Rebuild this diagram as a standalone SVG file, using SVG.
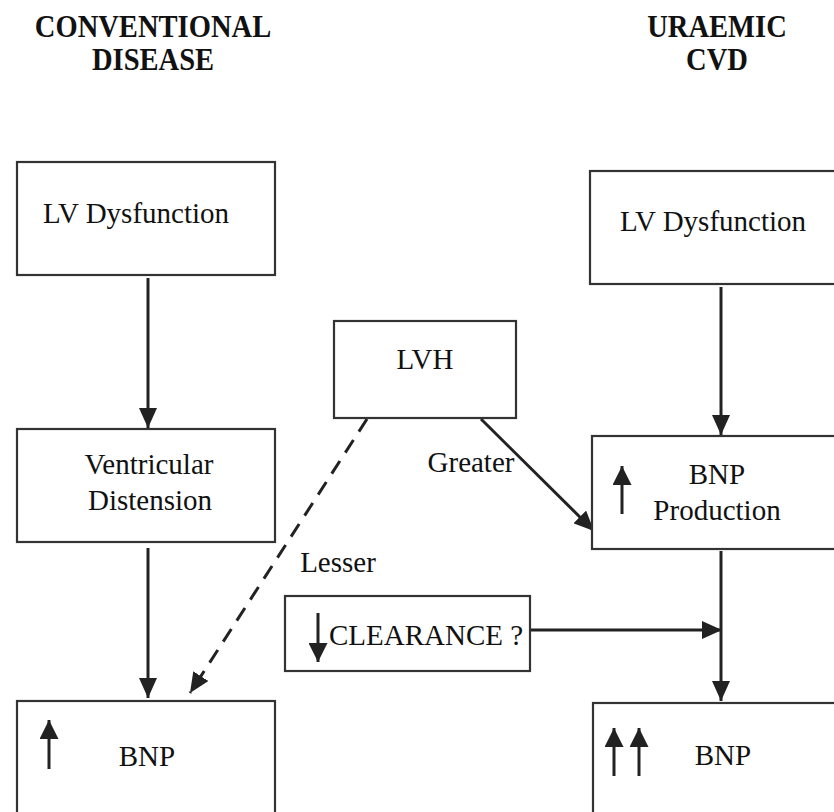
<svg xmlns="http://www.w3.org/2000/svg" width="834" height="812" viewBox="0 0 834 812">
<style>
.box{fill:#fff;stroke:#333;stroke-width:2.2}
.t{font-family:"Liberation Serif","Times New Roman",serif;font-size:29px;fill:#111;text-anchor:middle}
.h{font-family:"Liberation Serif","Times New Roman",serif;font-size:28px;font-weight:bold;fill:#111;text-anchor:middle}
.c{stroke:#222;stroke-width:3;fill:none}
.s{stroke:#222;stroke-width:3;fill:none}
</style>
<defs>
<marker id="ah" markerUnits="userSpaceOnUse" markerWidth="20" markerHeight="18" refX="20" refY="9" orient="auto">
<path d="M0,0 L20,9 L0,18 z" fill="#222"/>
</marker>
<marker id="sh" markerUnits="userSpaceOnUse" markerWidth="19" markerHeight="19" refX="19" refY="9.5" orient="auto">
<path d="M0,0 L19,9.5 L0,19 z" fill="#222"/>
</marker>
</defs>
<rect width="834" height="812" fill="#fff"/>
<g id="header-conventional">
<text class="h" transform="translate(153,37) scale(1.02,1.12)">CONVENTIONAL</text>
<text class="h" transform="translate(153,70) scale(1.02,1.12)">DISEASE</text>
</g>
<g id="header-uraemic">
<text class="h" transform="translate(717,37) scale(1.02,1.12)">URAEMIC</text>
<text class="h" transform="translate(717,70) scale(1.02,1.12)">CVD</text>
</g>
<g id="connectors">
<line class="c" x1="148" y1="278" x2="148" y2="428" marker-end="url(#ah)"/>
<line class="c" x1="148" y1="548" x2="148" y2="698" marker-end="url(#ah)"/>
<line class="c" x1="367" y1="419" x2="190" y2="693" stroke-dasharray="15 10" marker-end="url(#ah)"/>
<line class="c" x1="481" y1="419" x2="594" y2="531" marker-end="url(#ah)"/>
<line class="c" x1="721" y1="287" x2="721" y2="435" marker-end="url(#ah)"/>
<line class="c" x1="721" y1="551" x2="721" y2="701" marker-end="url(#ah)"/>
<line class="c" x1="531" y1="630" x2="722" y2="630" marker-end="url(#ah)"/>
<text class="t" x="471" y="472">Greater</text>
<text class="t" x="338" y="572">Lesser</text>
</g>
<g id="lv-dysfunction-left">
<rect class="box" x="17" y="162" width="258" height="113"/>
<text class="t" x="136" y="223">LV Dysfunction</text>
</g>
<g id="lv-dysfunction-right">
<rect class="box" x="590" y="171" width="260" height="113"/>
<text class="t" x="713" y="231">LV Dysfunction</text>
</g>
<g id="lvh">
<rect class="box" x="334" y="321" width="182" height="97"/>
<text class="t" x="425" y="369">LVH</text>
</g>
<g id="ventricular-distension">
<rect class="box" x="17" y="429" width="258" height="113"/>
<text class="t" x="149" y="474">Ventricular</text>
<text class="t" x="150" y="510">Distension</text>
</g>
<g id="bnp-production">
<rect class="box" x="592" y="436" width="258" height="113"/>
<line class="s" x1="622" y1="514" x2="622" y2="466" marker-end="url(#sh)"/>
<text class="t" x="717" y="484">BNP</text>
<text class="t" x="717" y="520">Production</text>
</g>
<g id="clearance">
<rect class="box" x="285" y="596" width="245" height="75"/>
<line class="s" x1="318" y1="613" x2="318" y2="662" marker-end="url(#sh)"/>
<text class="t" x="426" y="645">CLEARANCE ?</text>
</g>
<g id="bnp-left">
<rect class="box" x="17" y="701" width="258" height="130"/>
<line class="s" x1="49" y1="769" x2="49" y2="720" marker-end="url(#sh)"/>
<text class="t" x="147" y="766">BNP</text>
</g>
<g id="bnp-right">
<rect class="box" x="593" y="703" width="258" height="130"/>
<line class="s" x1="614" y1="776" x2="614" y2="728" marker-end="url(#sh)"/>
<line class="s" x1="639" y1="776" x2="639" y2="728" marker-end="url(#sh)"/>
<text class="t" x="723" y="765">BNP</text>
</g>
</svg>
